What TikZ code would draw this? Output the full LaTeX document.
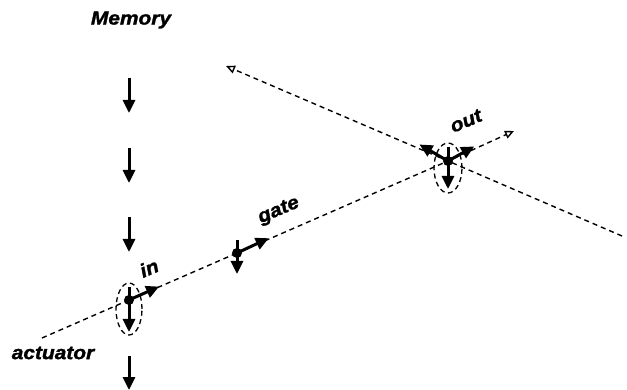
\documentclass[tikz,border=0pt]{standalone}
\usepackage{fontspec}
\usepackage{tikz}
\usetikzlibrary{arrows.meta, shapes.geometric, positioning, calc}
\newfontfamily\lblfont[FakeStretch=1.1, BoldItalicFeatures={FakeBold=1.6}]{Liberation Sans}

\begin{document}
\begin{tikzpicture}[
    x=1pt, y=1pt,
    lbl/.style={font=\lblfont\fontsize{19}{21}\selectfont\bfseries\itshape, inner sep=0pt},
    dot/.style={circle, fill=black, inner sep=0pt, minimum size=10pt},
    ring/.style={ellipse, draw, line width=1.3pt, dash pattern=on 5pt off 3.5pt, inner sep=0pt},
    wire/.style={line width=1.4pt, dash pattern=on 5pt off 4pt, -{Triangle[open, length=9pt, width=8pt]}},
    arr/.style={-{Triangle[length=13pt, width=12pt]}, line width=3pt},
  ]
    \useasboundingbox (0,0) rectangle (627,-390);

    % flow out of memory
    \node[lbl] (mem) at (131,-20) {Memory};
    \foreach \y in {78, 148, 217}
      \draw[arr] (129,-\y) -- (129,-\y-35);
    \draw[arr] (129,-356) -- (129,-390);

    % the two units and the line that joins them
    \node[dot] (in) at (129,-300) {};
    \node[dot] (gate) at (237,-253) {};
    \node[dot] (out) at (448,-161) {};
    \node[ring, minimum width=26pt, minimum height=52pt] (inring) at (129,-309) {};
    \node[ring, minimum width=28pt, minimum height=50pt] (outring) at (448,-168) {};

    \coordinate (act) at (42,-338);
    \coordinate (fwd) at (514,-131);
    \coordinate (back) at (226,-66);
    \coordinate (tail) at (622,-236);

    \draw[wire] (act) -- (in.center) -- (gate.center) -- (out.center) -- (fwd);
    \draw[wire] (tail) -- (out.center) -- (back);

    % weight vectors
    \draw[arr] (129,-287) -- (129,-332);
    \draw[arr] (in.center) -- ++(24:33);
    \draw[arr] (237,-240) -- (237,-274);
    \draw[arr] (gate.center) -- ++(25:35);
    \draw[arr] (448,-147) -- (448,-189);
    \draw[arr] (out.center) -- ++(29:30);
    \draw[arr] (out.center) -- ++(150:33);

    \node[lbl, rotate=23] (inlbl) at (149,-268) {in};
    \node[lbl, rotate=23] (gatelbl) at (279,-211) {gate};
    \node[lbl, rotate=23] (outlbl) at (466,-121) {out};
    \node[lbl] (actlbl) at (53,-353) {actuator};
  \end{tikzpicture}
\end{document}
